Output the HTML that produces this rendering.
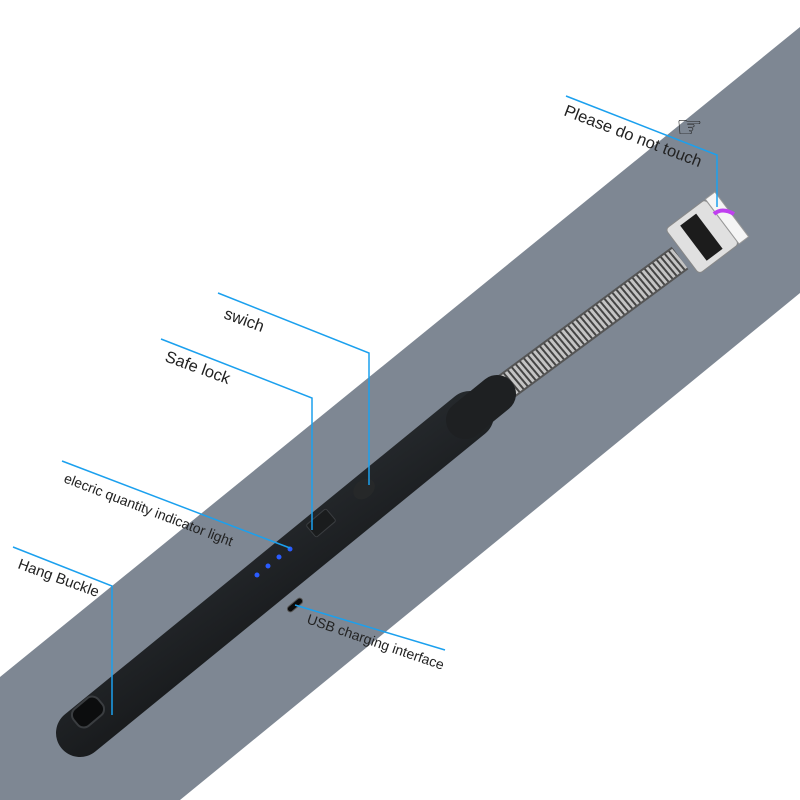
<!DOCTYPE html>
<html><head><meta charset="utf-8"><style>
html,body{margin:0;padding:0;background:#fff}
svg{display:block}
text{font-family:"Liberation Sans",sans-serif;fill:#222}
</style></head><body>
<svg width="800" height="800" viewBox="0 0 800 800">
<defs>
<linearGradient id="bd" x1="0" y1="0" x2="0.55" y2="0.66">
<stop offset="0" stop-color="#50575c"/><stop offset="0.35" stop-color="#30353a"/><stop offset="1" stop-color="#181a1c"/>
</linearGradient>
<pattern id="coil" width="5" height="5" patternUnits="userSpaceOnUse" patternTransform="rotate(-40)">
<rect width="5" height="5" fill="#c4c4c4"/><rect width="2" height="5" fill="#444"/>
</pattern>
</defs>
<polygon points="0,677 800,27 800,293 180,800 0,800" fill="#7e8793"/>
<!-- spring -->
<line x1="495" y1="395" x2="680" y2="258" stroke="#555" stroke-width="28"/>
<line x1="495" y1="395" x2="680" y2="258" stroke="url(#coil)" stroke-width="24"/>
<!-- head -->
<g transform="translate(703,236) rotate(-37)">
<rect x="-26" y="-28" width="50" height="56" rx="4" fill="#e0e0e0" stroke="#888"/>
<rect x="-12" y="-22" width="20" height="44" fill="#1c1c1c"/>
<rect x="24" y="-28" width="12" height="56" fill="#f5f5f5" stroke="#999"/>
</g>
<path d="M714 214 Q722 207 734 214" stroke="#c040f0" stroke-width="4" fill="none"/>
<!-- body -->
<line x1="80" y1="733" x2="470" y2="415" stroke="url(#bd)" stroke-width="48" stroke-linecap="round"/>
<line x1="465" y1="420" x2="497" y2="394" stroke="#1e2022" stroke-width="38" stroke-linecap="round"/>
<!-- buckle hole -->
<g transform="translate(88,712) rotate(-40)">
<rect x="-16" y="-11" width="32" height="22" rx="8" fill="#0c0d0e" stroke="#3a3d40" stroke-width="2"/>
</g>
<!-- controls -->
<g transform="translate(321,523) rotate(-40)"><rect x="-13" y="-8" width="26" height="16" rx="2" fill="#1a1c1d" stroke="#3a3d40"/></g>
<ellipse cx="364" cy="489" rx="12" ry="9" fill="#262829" transform="rotate(-40 364 489)"/>
<g fill="#2a5cff"><circle cx="257" cy="575" r="2.5"/><circle cx="268" cy="566" r="2.5"/><circle cx="279" cy="557" r="2.5"/><circle cx="290" cy="549" r="2.5"/></g>
<g transform="translate(295,605) rotate(-40)"><rect x="-9" y="-3" width="18" height="6" rx="3" fill="#0a0a0a" stroke="#555"/></g>
<!-- leader lines -->
<g stroke="#1ba0ee" stroke-width="1.5" fill="none">
<polyline points="566,96 717,155 717,207"/>
<polyline points="218,293 369,353 369,485"/>
<polyline points="161,339 312,398 312,530"/>
<polyline points="62,461 290,548"/>
<polyline points="13,547 112,586 112,715"/>
<polyline points="295,605 445,650"/>
</g>
<text x="563" y="115" font-size="16.5" transform="rotate(21 563 115)">Please do not touch</text>
<text x="676" y="137" font-size="30" fill="#111">☞</text>
<text x="223" y="318" font-size="16.5" transform="rotate(20 223 318)">swich</text>
<text x="164" y="361" font-size="16.5" transform="rotate(20 164 361)">Safe lock</text>
<text x="63" y="482" font-size="14" transform="rotate(21 63 482)">elecric quantity indicator light</text>
<text x="17" y="568" font-size="15" transform="rotate(20 17 568)">Hang Buckle</text>
<text x="306" y="623" font-size="14" transform="rotate(19 306 623)">USB charging interface</text>
</svg>
</body></html>
